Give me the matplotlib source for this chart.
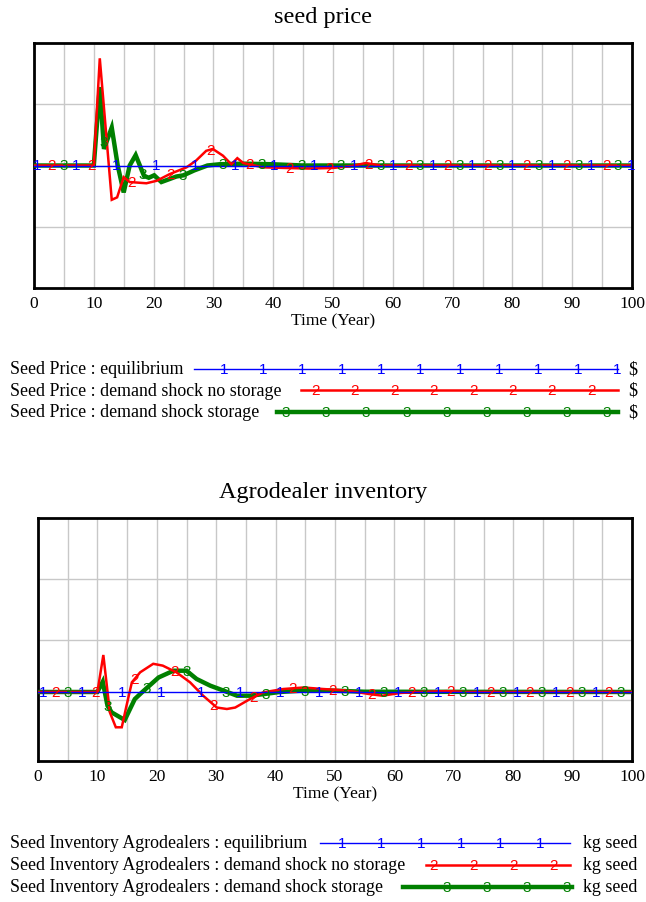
import numpy as np
import matplotlib
matplotlib.use("Agg")
import matplotlib.pyplot as plt
from matplotlib.lines import Line2D

# ---------------- data ----------------
xticks = list(range(0, 101, 10))

# seed price (arbitrary units, equilibrium = 2.0)
price_eq_t = [0, 100]
price_eq = [2.0, 2.0]
price_ns_t = [0, 10, 11, 13, 13.9, 15, 16, 18.8, 20.5, 22.7, 25.5, 27.1, 28.8, 29.9, 31.6, 33, 34, 35,
              38.3, 42, 46, 50, 53, 55.5, 58, 62, 100]
price_ns = [2.0, 2.0, 3.75, 1.44, 1.48, 1.81, 1.73, 1.71, 1.75, 1.86, 1.97, 2.08, 2.24, 2.27, 2.16, 2.02,
            2.12, 2.04, 1.97, 1.96, 1.95, 1.96, 1.99, 2.04, 2.0, 2.0, 2.0]
price_st_t = [0, 10, 11, 11.7, 13, 14, 15, 16, 17, 18.4, 19.2, 20.1, 21.3, 22.7, 23.8, 25, 26.8, 29,
              31, 35, 40, 45, 100]
price_st = [2.0, 2.0, 3.28, 2.27, 2.62, 2.0, 1.56, 2.0, 2.17, 1.83, 1.80, 1.84, 1.73, 1.78, 1.82, 1.84,
            1.92, 2.0, 2.02, 2.03, 2.02, 2.0, 2.0]

# agrodealer inventory (arbitrary units, equilibrium = 1.136)
inv_eq_t = [0, 100]
inv_eq = [1.136, 1.136]
inv_ns_t = [0, 10, 11, 12.1, 13.1, 14.1, 14.9, 15.8, 17.2, 19.4, 21, 23.3, 25.6, 27.8, 30.1, 31.8, 33.2,
            35.7, 37.9, 41.3, 44.7, 48, 52, 55.9, 58, 61, 65, 68.8, 72, 100]
inv_ns = [1.136, 1.136, 1.745, 0.80, 0.555, 0.555, 0.91, 1.295, 1.46, 1.60, 1.57, 1.46, 1.295, 1.075,
          0.88, 0.856, 0.88, 1.02, 1.13, 1.185, 1.21, 1.185, 1.16, 1.10, 1.075, 1.12, 1.14, 1.15,
          1.136, 1.136]
inv_st_t = [0, 10, 10.9, 11.7, 12.4, 14.6, 16.3, 17.5, 20.3, 22.8, 25, 26.7, 29, 31.2, 33.5, 35.7,
            37.9, 40.7, 44.7, 49.2, 55, 100]
inv_st = [1.136, 1.136, 1.305, 0.91, 0.80, 0.675, 1.02, 1.13, 1.375, 1.486, 1.486, 1.35, 1.24, 1.16,
          1.075, 1.075, 1.10, 1.136, 1.16, 1.16, 1.14, 1.136]

titles = ["seed price", "Agrodealer inventory"]
xlabel = "Time (Year)"
legend_price = ["Seed Price : equilibrium",
                "Seed Price : demand shock no storage",
                "Seed Price : demand shock storage"]
legend_inv = ["Seed Inventory Agrodealers : equilibrium",
              "Seed Inventory Agrodealers : demand shock no storage",
              "Seed Inventory Agrodealers : demand shock storage"]
units_price = "$"
units_inv = "kg seed"
series_labels = ["1", "2", "3"]

# ---------------- style ----------------
W, H = 646, 903
colors = ["#0000ff", "#ff0000", "#008000"]
widths = [1.0, 1.8, 3.2]
serif = ["Liberation Serif", "DejaVu Serif"]
sans = ["Liberation Sans", "DejaVu Sans"]
FS_TXT = 12.5
FS_LEG = 12.9
FS_TITLE = 17.5
FS_MARK = 11

fig = plt.figure(figsize=(W / 100, H / 100), dpi=100)


def px_axes(left, top, right, bottom):
    return fig.add_axes([left / W, 1 - bottom / H, (right - left) / W, (bottom - top) / H])


def setup(ax, title, title_y):
    ax.set_xlim(0, 100)
    ax.set_ylim(0, 4)
    ax.set_xticks(xticks)
    ax.set_xticks(range(5, 100, 10), minor=True)
    ax.set_yticks([1, 2, 3])
    ax.set_yticklabels([])
    ax.tick_params(axis="both", which="both", length=0)
    ax.tick_params(axis="x", pad=5)
    for lab in ax.get_xticklabels():
        lab.set_fontfamily(serif)
        lab.set_fontsize(FS_TXT)
    ax.grid(True, which="both", color="#c8c8c8", lw=1.0)
    ax.set_axisbelow(True)
    for s in ax.spines.values():
        s.set_color("black")
        s.set_linewidth(2.0)
    ax.set_xlabel(xlabel, fontfamily=serif, fontsize=FS_TXT, labelpad=1)
    fig.text(0.5 + 0.0, 1 - title_y / H, title, ha="center", va="center",
             fontfamily=serif, fontsize=FS_TITLE)


def draw_series(ax, t, v, i, t0, step):
    ax.plot(t, v, color=colors[i], lw=widths[i], solid_joinstyle="miter", zorder=4 if i == 0 else 3)
    mt = np.arange(t0, 100.01, step)
    mv = np.interp(mt, t, v)
    for a, b in zip(mt, mv):
        ax.text(a, b, series_labels[i], color=colors[i], ha="center", va="center",
                fontfamily=sans, fontsize=FS_MARK, zorder=5)


def legend_row(y, text, i, x1, x2, mx0, mstep, nm, unit, unit_x):
    fig.text(10 / W, 1 - y / H, text, ha="left", va="center", fontfamily=serif, fontsize=FS_LEG)
    fig.add_artist(Line2D([x1 / W, x2 / W], [1 - y / H, 1 - y / H], transform=fig.transFigure,
                          color=colors[i], lw=widths[i]))
    for k in range(nm):
        fig.text((mx0 + k * mstep) / W, 1 - y / H, series_labels[i], ha="center", va="center",
                 color=colors[i], fontfamily=sans, fontsize=FS_MARK)
    fig.text(unit_x / W, 1 - y / H, unit, ha="left", va="center", fontfamily=serif, fontsize=FS_LEG)


# ---- top chart ----
ax1 = px_axes(34, 44, 632, 289)
setup(ax1, titles[0], 18)
draw_series(ax1, price_eq_t, price_eq, 0, 0.5, 6.62)
draw_series(ax1, price_st_t, price_st, 2, 5.0, 6.62)
draw_series(ax1, price_ns_t, price_ns, 1, 3.0, 6.62)

legend_row(370, legend_price[0], 0, 194, 618, 224, 39.3, 11, units_price, 628)
legend_row(391, legend_price[1], 1, 301, 618, 315, 39.5, 8, units_price, 628)
legend_row(413, legend_price[2], 2, 277, 618, 286, 40.1, 9, units_price, 628)

# ---- bottom chart ----
ax2 = px_axes(38, 519, 632, 762)
setup(ax2, titles[1], 493)
draw_series(ax2, inv_eq_t, inv_eq, 0, 0.84, 6.65)
draw_series(ax2, inv_st_t, inv_st, 2, 5.05, 6.65)
draw_series(ax2, inv_ns_t, inv_ns, 1, 3.0, 6.65)

legend_row(844, legend_inv[0], 0, 320, 570, 342, 39.6, 6, units_inv, 583)
legend_row(866, legend_inv[1], 1, 426, 570, 433, 40.0, 4, units_inv, 583)
legend_row(888, legend_inv[2], 2, 403, 572, 447, 40.0, 4, units_inv, 583)

fig.savefig("out.png", dpi=100, facecolor="white")
